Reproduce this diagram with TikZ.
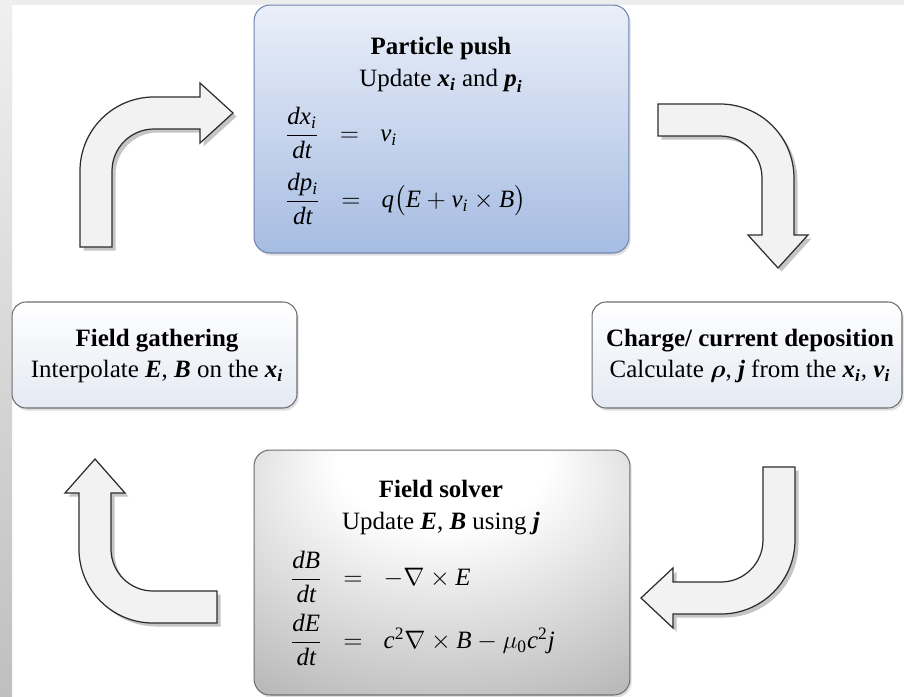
\documentclass[tikz,border=0pt]{standalone}
\usepackage{amsmath}
\usepackage{mathspec}
\setmainfont{Liberation Serif}
\setmathsfont(Digits,Latin)[Scale=MatchLowercase]{Liberation Serif}
\usepackage{tikz}
\usetikzlibrary{shadows}
\newcommand{\bsym}[1]{\textbf{\textit{#1}}}
\definecolor{pushtop}{RGB}{234,239,249}
\definecolor{pushbot}{RGB}{166,188,226}
\definecolor{pushline}{RGB}{110,132,176}
\definecolor{stagebot}{RGB}{228,233,243}
\definecolor{boxline}{RGB}{110,110,110}
\definecolor{arrowfill}{RGB}{242,242,242}
\definecolor{arrowline}{RGB}{45,45,45}
\pgfdeclareradialshading{solvershade}{\pgfpoint{0bp}{30bp}}{%
  color(0bp)=(white); color(14bp)=(white); color(42bp)=(black!28); color(62bp)=(black!42)}
\tikzset{
    pushbox/.style={rounded corners=0.32cm, draw=pushline, line width=0.6pt, top color=pushtop, bottom color=pushbot, minimum width=7.5cm, minimum height=4.96cm, drop shadow={opacity=0.25, shadow xshift=1pt, shadow yshift=-1.5pt}},
    stagebox/.style={rounded corners=0.28cm, draw=boxline, line width=0.6pt, top color=white, bottom color=stagebot, minimum height=2.12cm, drop shadow={opacity=0.25, shadow xshift=1pt, shadow yshift=-1.5pt}},
    solverbox/.style={rounded corners=0.32cm, draw=boxline, line width=0.6pt, shading=solvershade, minimum width=7.52cm, minimum height=4.9cm, drop shadow={opacity=0.25, shadow xshift=1pt, shadow yshift=-1.5pt}},
    boxtext/.style={align=center, inner sep=0pt, font=\fontsize{14.2}{18.2}\selectfont},
    eqtext/.style={anchor=west, inner sep=0pt, font=\fontsize{14.2}{18.2}\selectfont},
    blockarrow/.style={fill=arrowfill, draw=arrowline, line width=0.7pt, line join=miter, drop shadow={opacity=0.45, shadow xshift=2pt, shadow yshift=-2pt}}
}

\begin{document}
\begin{tikzpicture}[x=0.02cm, y=-0.02cm]
    \useasboundingbox (0,0) rectangle (904,697);
    % background strips
    \fill[white] (0,0) rectangle (904,697);
    \fill[black!7] (0,0) rectangle (904,5);
    \shade[top color=black!6, bottom color=black!25] (0,0) rectangle (12,697);

    % stages
    \node[pushbox] (push) at (441.5,129) {};
    \node[stagebox, minimum width=5.7cm] (gather) at (154.5,355) {};
    \node[stagebox, minimum width=6.2cm] (charge) at (747,355) {};
    \node[solverbox] (solver) at (442,572.5) {};

    % particle push
    \node[boxtext] (pushtitle) at (441,65) {\textbf{Particle push}\\Update $\bsym{x}_{\bsym{i}}$ and $\bsym{p}_{\bsym{i}}$};
    \node[eqtext] (pusheqa) at (285,133) {$\dfrac{dx_i}{dt}\;\;=\;\;v_i$};
    \node[eqtext] (pusheqb) at (285,199) {$\dfrac{dp_i}{dt}\;\;=\;\;q\bigl(E+v_i\times B\bigr)$};

    % gathering and deposition
    \node[boxtext] (gathertitle) at (157,356) {\textbf{Field gathering}\\Interpolate $\bsym{E}$, $\bsym{B}$ on the $\bsym{x}_{\bsym{i}}$};
    \node[boxtext] (chargetitle) at (750,356) {\textbf{Charge/ current deposition}\\Calculate $\boldsymbol{\rho}$, $\bsym{j}$ from the $\bsym{x}_{\bsym{i}}$, $\bsym{v}_{\bsym{i}}$};

    % field solver
    \node[boxtext] (solvertitle) at (441,508) {\textbf{Field solver}\\Update $\bsym{E}$, $\bsym{B}$ using $\bsym{j}$};
    \node[eqtext] (solvereqa) at (290,577) {$\dfrac{dB}{dt}\;\;=\;\;-\nabla\times E$};
    \node[eqtext] (solvereqb) at (290,640) {$\dfrac{dE}{dt}\;\;=\;\;c^2\nabla\times B-\mu_0c^2j$};

    % block arrows round the cycle
    \draw[blockarrow] (80,247) -- (80,171) .. controls (80,130.1) and (113.1,97) .. (154,97) -- (200,97) -- (200,83) -- (233,113) -- (200,143) -- (200,129) -- (154,129) .. controls (130.8,129) and (112,147.8) .. (112,171) -- (112,247) -- cycle;
    \draw[blockarrow] (658,104) -- (720,104) .. controls (760.9,104) and (794,137.1) .. (794,178) -- (794,235) -- (808,235) -- (778,268) -- (748,235) -- (762,235) -- (762,178) .. controls (762,154.8) and (743.2,136) .. (720,136) -- (658,136) -- cycle;
    \draw[blockarrow] (763,467) -- (795,467) -- (795,540) .. controls (795,580.9) and (761.9,614) .. (721,614) -- (673,614) -- (673,628) -- (641,598) -- (673,568) -- (673,582) -- (721,582) .. controls (744.2,582) and (763,563.2) .. (763,540) -- cycle;
    \draw[blockarrow] (217,623) -- (153,623) .. controls (112.1,623) and (79,589.9) .. (79,549) -- (79,493) -- (65,493) -- (95,459) -- (125,493) -- (111,493) -- (111,549) .. controls (111,572.2) and (129.8,591) .. (153,591) -- (217,591) -- cycle;
\end{tikzpicture}
\end{document}
